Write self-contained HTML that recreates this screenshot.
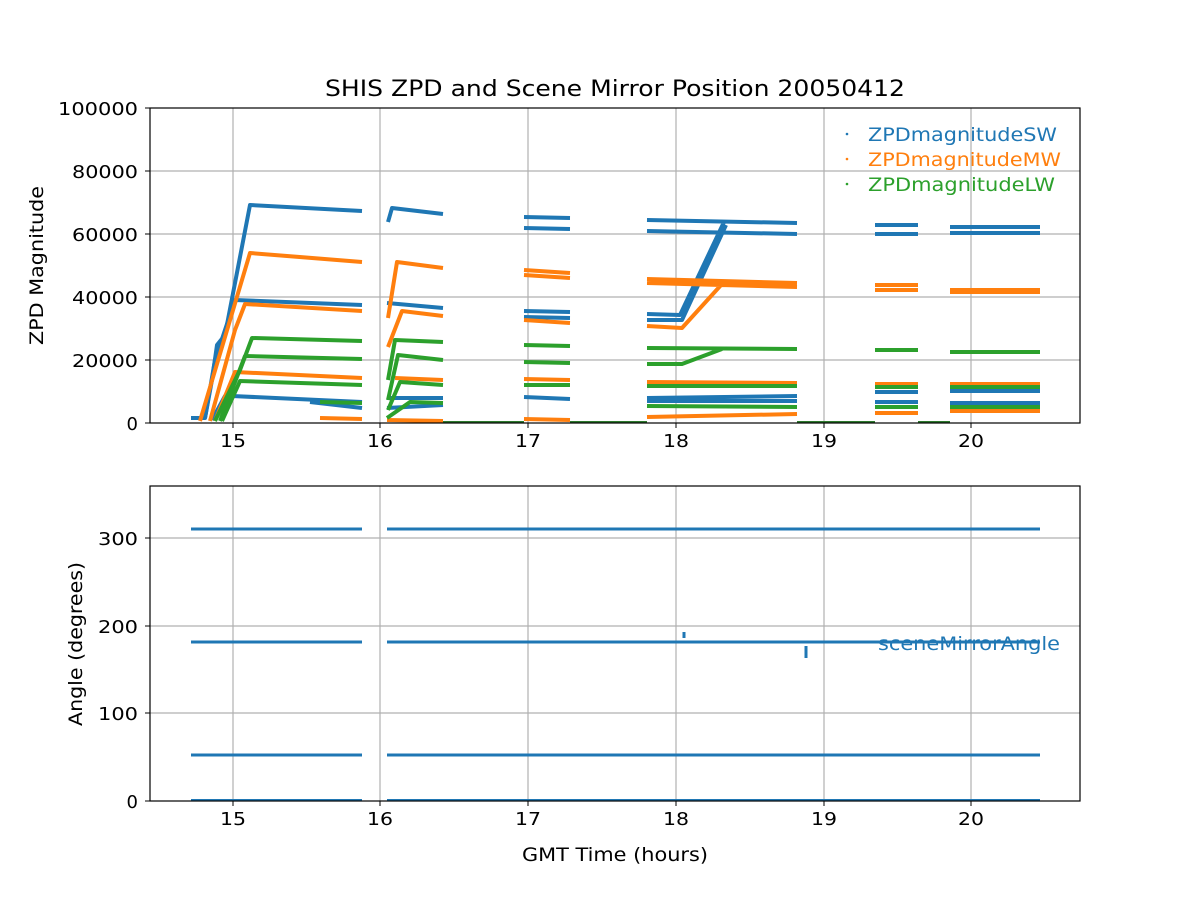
<!DOCTYPE html><html><head><meta charset="utf-8"><style>body{margin:0;background:#fff}svg{display:block}text{font-family:"DejaVu Sans","Liberation Sans",sans-serif}</style></head><body>
<svg width="1200" height="900" viewBox="0 0 1200 900" xmlns="http://www.w3.org/2000/svg">
<rect width="1200" height="900" fill="#fff"/>
<g stroke="#b0b0b0" stroke-width="1.2">
<line x1="233" y1="108" x2="233" y2="423"/><line x1="380" y1="108" x2="380" y2="423"/><line x1="528" y1="108" x2="528" y2="423"/><line x1="676" y1="108" x2="676" y2="423"/><line x1="824" y1="108" x2="824" y2="423"/><line x1="971" y1="108" x2="971" y2="423"/>
<line x1="150" y1="171" x2="1080" y2="171"/><line x1="150" y1="234" x2="1080" y2="234"/><line x1="150" y1="297" x2="1080" y2="297"/><line x1="150" y1="360" x2="1080" y2="360"/>
<line x1="233" y1="486" x2="233" y2="801"/><line x1="380" y1="486" x2="380" y2="801"/><line x1="528" y1="486" x2="528" y2="801"/><line x1="676" y1="486" x2="676" y2="801"/><line x1="824" y1="486" x2="824" y2="801"/><line x1="971" y1="486" x2="971" y2="801"/>
<line x1="150" y1="538" x2="1080" y2="538"/><line x1="150" y1="626" x2="1080" y2="626"/><line x1="150" y1="713" x2="1080" y2="713"/>
</g>
<g fill="none" stroke-width="4" stroke-linejoin="round">
<g stroke="#2d7a2d" stroke-width="2"><path d="M443 422H524M570 422H647M797 422H875M918 422H950"/></g>
<g stroke="#1f77b4">
<path d="M191 418H205L212 380L217 345L225 335L250 205L362 211"/>
<path d="M205 418L215 360L235 300L362 305"/>
<path d="M212 420L225 396L232 396L362 402"/>
<path d="M310 402L362 408"/>
<path d="M388 222L392 208L443 214"/><path d="M387 303L443 308"/><path d="M387 398H443"/><path d="M387 408L443 405"/>
<path d="M524 217L570 218M524 228L570 229M524 311L570 312M524 317L570 318M524 397L570 399"/>
<path d="M647 220L797 223M647 231L797 234M647 314L680 315L724 222M647 320L682 320L726 225M647 398L797 396M647 401L797 401"/>
<path d="M875 225H918M875 234H918M875 392H918M875 402H918"/>
<path d="M950 227H1040M950 233H1040M950 391H1040M950 403H1040"/>
</g>
<g stroke="#ff7f0e">
<path d="M200 421L250 253L362 262"/>
<path d="M210 421L235 330L245 304L362 311"/>
<path d="M215 421L235 372L362 378"/>
<path d="M320 418L362 419"/>
<path d="M388 318L397 262L443 268"/><path d="M388 347L402 311L443 316"/><path d="M395 378L443 380"/><path d="M387 420L443 421"/>
<path d="M524 270L570 273M524 275L570 278M524 320L570 323M524 379L570 380M524 419L570 420"/>
<path d="M647 279L797 283M647 283L797 287M647 326L682 328L722 284M647 382L797 383M647 417L797 414"/>
<path d="M875 285H918M875 290H918M875 384H918M875 413H918"/>
<path d="M950 290H1040M950 292H1040M950 384H1040M950 411H1040"/>
</g>
<g stroke="#2ca02c">
<path d="M215 421L240 370L252 338L362 341"/>
<path d="M220 421L245 356L362 359"/>
<path d="M222 421L240 381L362 385"/>
<path d="M320 402L362 403"/>
<path d="M388 380L395 340L443 342"/><path d="M388 400L398 355L443 360"/><path d="M388 410L400 382L443 385"/><path d="M387 418L410 402L443 403"/>
<path d="M524 345L570 346M524 362L570 363M524 385H570"/>
<path d="M647 348L797 349M647 364L682 364L722 349M647 386H797M647 406L797 407"/>
<path d="M875 350H918M875 387H918M875 407H918"/>
<path d="M950 352H1040M950 387H1040M950 407H1040"/>
</g>
</g>
<g stroke="#1f77b4" stroke-width="3" fill="none">
<path d="M191 529H362M387 529H1040M191 642H362M387 642H1040M191 755H362M387 755H1040"/>
<path d="M191 800H362M387 800H1040" stroke-width="2"/>
<path d="M684 632V638M806 646V658"/>
</g>
<g fill="none" stroke="#000" stroke-width="1.2"><rect x="150" y="108" width="930" height="315"/><rect x="150" y="486" width="930" height="315"/></g>
<g stroke="#000" stroke-width="1"><path d="M233 423v5M380 423v5M528 423v5M676 423v5M824 423v5M971 423v5M150 423h-5M150 360h-5M150 297h-5M150 234h-5M150 171h-5M150 108h-5"/><path d="M233 801v5M380 801v5M528 801v5M676 801v5M824 801v5M971 801v5M150 801h-5M150 713h-5M150 626h-5M150 538h-5"/></g>
<g font-size="18" fill="#000" text-anchor="middle" lengthAdjust="spacingAndGlyphs">
<text x="233" y="447" textLength="26" lengthAdjust="spacingAndGlyphs">15</text><text x="380" y="447" textLength="26" lengthAdjust="spacingAndGlyphs">16</text><text x="528" y="447" textLength="26" lengthAdjust="spacingAndGlyphs">17</text><text x="676" y="447" textLength="26" lengthAdjust="spacingAndGlyphs">18</text><text x="824" y="447" textLength="26" lengthAdjust="spacingAndGlyphs">19</text><text x="971" y="447" textLength="26" lengthAdjust="spacingAndGlyphs">20</text>
<text x="233" y="825" textLength="26" lengthAdjust="spacingAndGlyphs">15</text><text x="380" y="825" textLength="26" lengthAdjust="spacingAndGlyphs">16</text><text x="528" y="825" textLength="26" lengthAdjust="spacingAndGlyphs">17</text><text x="676" y="825" textLength="26" lengthAdjust="spacingAndGlyphs">18</text><text x="824" y="825" textLength="26" lengthAdjust="spacingAndGlyphs">19</text><text x="971" y="825" textLength="26" lengthAdjust="spacingAndGlyphs">20</text>
</g>
<g font-size="18" fill="#000" text-anchor="end">
<text x="138" y="430">0</text><text x="138" y="367" textLength="66" lengthAdjust="spacingAndGlyphs">20000</text><text x="138" y="304" textLength="66" lengthAdjust="spacingAndGlyphs">40000</text><text x="138" y="241" textLength="66" lengthAdjust="spacingAndGlyphs">60000</text><text x="138" y="178" textLength="66" lengthAdjust="spacingAndGlyphs">80000</text><text x="138" y="115" textLength="80" lengthAdjust="spacingAndGlyphs">100000</text>
<text x="138" y="808">0</text><text x="138" y="720" textLength="40" lengthAdjust="spacingAndGlyphs">100</text><text x="138" y="633" textLength="40" lengthAdjust="spacingAndGlyphs">200</text><text x="138" y="545" textLength="40" lengthAdjust="spacingAndGlyphs">300</text>
</g>
<text x="325" y="96" font-size="22" textLength="580" lengthAdjust="spacingAndGlyphs">SHIS ZPD and Scene Mirror Position 20050412</text>
<text x="522" y="861" font-size="19" textLength="186" lengthAdjust="spacingAndGlyphs">GMT Time (hours)</text>
<text transform="translate(43,345) rotate(-90)" font-size="19" textLength="159" lengthAdjust="spacingAndGlyphs">ZPD Magnitude</text>
<text transform="translate(82,726) rotate(-90)" font-size="19" textLength="164" lengthAdjust="spacingAndGlyphs">Angle (degrees)</text>
<g font-size="19"><circle cx="847" cy="134" r="1.3" fill="#1f77b4"/><text x="868" y="141" fill="#1f77b4" textLength="189" lengthAdjust="spacingAndGlyphs">ZPDmagnitudeSW</text>
<circle cx="847" cy="159" r="1.3" fill="#ff7f0e"/><text x="868" y="166" fill="#ff7f0e" textLength="193" lengthAdjust="spacingAndGlyphs">ZPDmagnitudeMW</text>
<circle cx="847" cy="184" r="1.3" fill="#2ca02c"/><text x="868" y="191" fill="#2ca02c" textLength="187" lengthAdjust="spacingAndGlyphs">ZPDmagnitudeLW</text>
<text x="878" y="650" fill="#1f77b4" textLength="182" lengthAdjust="spacingAndGlyphs">sceneMirrorAngle</text></g>
</svg></body></html>
